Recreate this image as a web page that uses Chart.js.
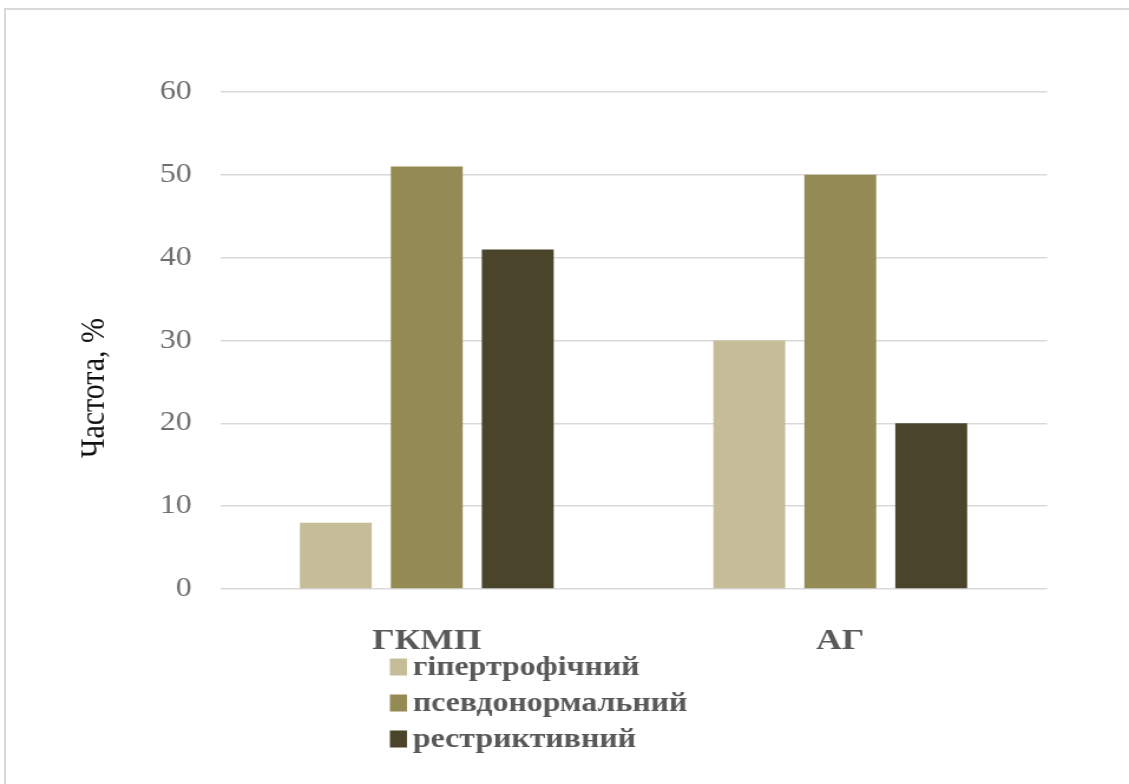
<!DOCTYPE html>
<html>
<head>
<meta charset="utf-8">
<script src="https://cdn.jsdelivr.net/npm/chart.js@4.4.1/dist/chart.umd.min.js"></script>
<style>
  html, body { margin: 0; padding: 0; background: #ffffff; }
  #wrap { position: relative; width: 1129px; height: 784px; overflow: hidden; }
  #frame {
    position: absolute; left: 4px; top: 8px; right: -10px; bottom: -10px;
    border-left: 2px solid #d9d9d9; border-top: 2px solid #d9d9d9;
    pointer-events: none;
  }
  canvas { display: block; }
</style>
</head>
<body>
<div id="wrap">
  <!-- drawn on a narrower canvas and widened to the page width -->
  <canvas id="chart" width="957" height="784" style="width:1129px;height:784px"></canvas>
  <div id="frame"></div>
</div>
<script>
// Groups on the x axis
const categories = ['ГКМП', 'АГ'];

// Share of each filling type per group, %
const seriesNames = ['гіпертрофічний', 'псевдонормальний', 'рестриктивний'];
const hypertrophic = [8, 30];
const pseudonormal = [51, 50];
const restrictive = [41, 20];

const seriesColors = ['#c4bd97', '#948a54', '#4a452a'];

const yTicks = [0, 10, 20, 30, 40, 50, 60];
const yTitle = 'Частота, %';

const serif = "'Liberation Serif', 'Times New Roman', serif";
const textGrey = '#595959';

// Rotated y-axis caption, centred on the whole figure height
const yTitlePlugin = {
  id: 'yTitle',
  afterDraw(chart) {
    const ctx = chart.ctx;
    ctx.save();
    ctx.translate(80, 388);
    ctx.rotate(-Math.PI / 2);
    ctx.font = '30px ' + serif;
    ctx.fillStyle = '#111111';
    ctx.textAlign = 'center';
    ctx.textBaseline = 'middle';
    ctx.fillText(yTitle, 0, 0);
    ctx.restore();
  }
};

// Stacked legend below the category labels
const stackedLegend = {
  id: 'stackedLegend',
  afterDraw(chart) {
    const ctx = chart.ctx;
    const area = chart.chartArea;
    const left = area.left + 144;
    const firstRow = area.bottom + 78;
    const rowGap = 36;
    const boxW = 14.5;
    const boxH = 17;
    ctx.save();
    ctx.font = 'bold 27px ' + serif;
    ctx.textBaseline = 'middle';
    ctx.textAlign = 'left';
    chart.data.datasets.forEach((ds, i) => {
      const y = firstRow + i * rowGap;
      ctx.fillStyle = ds.backgroundColor;
      ctx.fillRect(left, y - boxH / 2, boxW, boxH);
      ctx.fillStyle = textGrey;
      ctx.fillText(ds.label, left + boxW + 5, y + 1);
    });
    ctx.restore();
  }
};

const seriesValues = [hypertrophic, pseudonormal, restrictive];

new Chart(document.getElementById('chart'), {
  type: 'bar',
  data: {
    labels: categories,
    datasets: seriesNames.map((name, i) => ({
      label: name,
      data: seriesValues[i],
      backgroundColor: seriesColors[i],
      borderWidth: 0,
      categoryPercentage: 0.66,
      barPercentage: 0.79
    }))
  },
  options: {
    responsive: false,
    animation: false,
    layout: { padding: { top: 92, right: 69.5, left: 0, bottom: 0 } },
    plugins: {
      legend: { display: false },
      tooltip: { enabled: false }
    },
    scales: {
      x: {
        grid: { display: false, drawTicks: false },
        border: { display: false },
        ticks: {
          color: textGrey,
          padding: 34,
          font: { family: serif, size: 30, weight: 'bold' }
        },
        afterFit(scale) { scale.height = 195; }
      },
      y: {
        min: 0,
        max: 60,
        afterBuildTicks(scale) { scale.ticks = yTicks.map(v => ({ value: v })); },
        grid: { color: '#d9d9d9', lineWidth: 1.5, drawTicks: false },
        border: { display: false },
        ticks: {
          color: '#6e6e6e',
          padding: 24,
          font: { family: serif, size: 27 }
        },
        afterFit(scale) { scale.width = 186.5; }
      }
    }
  },
  plugins: [yTitlePlugin, stackedLegend]
});
</script>
</body>
</html>
